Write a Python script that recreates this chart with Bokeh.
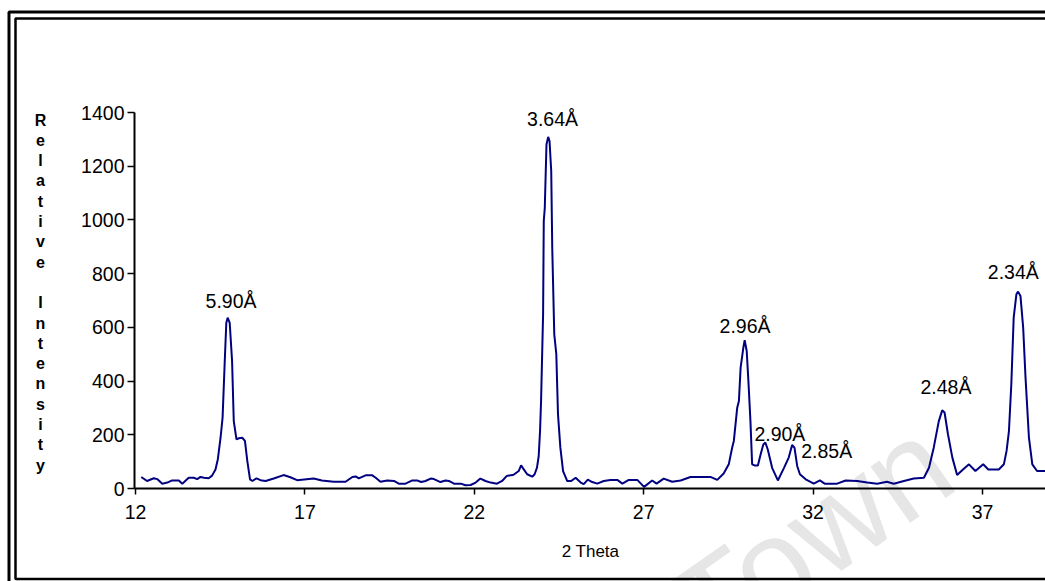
import math
from bokeh.plotting import figure
from bokeh.models import (Range1d, LabelSet, ColumnDataSource, BoxAnnotation,
                          FixedTicker)
from bokeh.core.properties import value
from bokeh.embed import file_html
from bokeh.resources import INLINE

# ---------------- data ----------------
two_theta = [12.17, 12.34, 12.54, 12.64, 12.79, 12.94, 13.08, 13.28, 13.38, 13.57,
             13.72, 13.82, 13.92, 14.02, 14.16, 14.26, 14.36, 14.43, 14.51, 14.57,
             14.63, 14.68, 14.72, 14.78, 14.85, 14.90, 14.98, 15.05, 15.15, 15.23,
             15.30, 15.38, 15.45, 15.57, 15.69, 15.84, 16.08, 16.37, 16.57, 16.77,
             17.26, 17.50, 17.85, 18.20, 18.40, 18.50, 18.59, 18.79, 18.99, 19.09,
             19.23, 19.43, 19.63, 19.77, 19.97, 20.17, 20.31, 20.43, 20.56, 20.71,
             20.81, 21.00, 21.15, 21.25, 21.40, 21.60, 21.74, 21.89, 22.04, 22.18,
             22.33, 22.48, 22.67, 22.82, 22.96, 23.16, 23.31, 23.38, 23.46, 23.56,
             23.71, 23.78, 23.85, 23.90, 23.94, 23.97, 24.03, 24.05, 24.08, 24.13,
             24.18, 24.22, 24.27, 24.30, 24.36, 24.42, 24.47, 24.54, 24.62, 24.74,
             24.86, 24.99, 25.14, 25.23, 25.35, 25.48, 25.63, 25.82, 26.02, 26.22,
             26.37, 26.56, 26.81, 27.01, 27.25, 27.38, 27.59, 27.84, 28.09, 28.38,
             28.97, 29.17, 29.36, 29.51, 29.61, 29.66, 29.76, 29.81, 29.86, 29.94,
             29.98, 30.04, 30.09, 30.15, 30.20, 30.27, 30.37, 30.45, 30.53, 30.59,
             30.66, 30.79, 30.96, 31.14, 31.28, 31.38, 31.45, 31.53, 31.61, 31.78,
             32.02, 32.20, 32.34, 32.71, 32.96, 33.30, 33.60, 33.89, 34.18, 34.38,
             34.68, 34.97, 35.27, 35.42, 35.56, 35.71, 35.81, 35.88, 35.98, 36.11,
             36.25, 36.40, 36.60, 36.79, 37.02, 37.17, 37.48, 37.63, 37.71, 37.78,
             37.85, 37.92, 38.00, 38.05, 38.12, 38.20, 38.27, 38.37, 38.47, 38.61,
             38.90]
intensity = [43, 28, 38, 35, 18, 22, 30, 30, 18, 40,
             40, 35, 43, 40, 38, 48, 71, 109, 189, 264,
             462, 617, 636, 617, 475, 251, 183, 187, 189, 177,
             102, 34, 28, 38, 31, 28, 37, 50, 42, 31,
             37, 30, 25, 25, 43, 45, 38, 49, 49, 40,
             25, 30, 28, 18, 18, 30, 30, 24, 28, 37,
             35, 24, 30, 28, 18, 18, 12, 13, 22, 37,
             28, 22, 18, 28, 47, 51, 65, 86, 71, 53,
             44, 53, 78, 120, 214, 326, 649, 996, 1045, 1281,
             1309, 1294, 1182, 897, 574, 500, 276, 152, 65, 28,
             28, 40, 22, 16, 33, 24, 18, 28, 32, 32,
             18, 32, 32, 6, 30, 18, 37, 25, 30, 43,
             43, 32, 56, 90, 152, 177, 301, 326, 450, 524,
             552, 512, 400, 251, 90, 86, 86, 127, 164, 171,
             146, 77, 30, 77, 115, 162, 152, 84, 53, 34,
             18, 30, 18, 18, 30, 28, 22, 18, 25, 18,
             28, 37, 40, 77, 152, 251, 291, 283, 202, 115,
             50, 68, 90, 65, 90, 71, 71, 90, 140, 214,
             388, 636, 723, 733, 717, 599, 412, 189, 90, 65,
             65]

peak_labels = ["5.90Å", "3.64Å", "2.96Å", "2.90Å", "2.85Å", "2.48Å", "2.34Å"]
peak_label_x = [14.82, 24.31, 29.99, 31.02, 32.40, 35.92, 37.91]
peak_label_y = [672, 1350, 579, 177, 114, 352, 780]

x_ticks = [12, 17, 22, 27, 32, 37]
y_ticks = [0, 200, 400, 600, 800, 1000, 1200, 1400]
x_title = "2 Theta"
y_title = "Relative Intensity"
watermark = "Town"

# ---------------- layout ----------------
W, H = 1045, 581
AX_LEFT_PX, AX_BOTTOM_PX = 134, 488     # where the axes sit on the canvas
X_AT_AXIS, PX_PER_X = 11.97, 33.88
PX_PER_Y = 376 / 1400


def dx(px):
    return X_AT_AXIS + (px - AX_LEFT_PX) / PX_PER_X


def dy(py):
    return (AX_BOTTOM_PX - py) / PX_PER_Y


p = figure(width=W, height=H,
           x_range=Range1d(dx(0), dx(W)), y_range=Range1d(dy(H), dy(0)),
           toolbar_location=None, output_backend="svg",
           min_border_left=0, min_border_right=0,
           min_border_top=0, min_border_bottom=0)
p.grid.visible = False
p.outline_line_color = None
p.background_fill_color = "white"
p.border_fill_color = "white"

FONT = "Liberation Sans"
for ax in (p.xaxis[0], p.yaxis[0]):
    ax.axis_line_color = "black"
    ax.axis_line_width = 2
    ax.major_tick_line_color = "black"
    ax.major_tick_line_width = 1.5
    ax.minor_tick_line_color = None
    ax.major_tick_in = 0
    ax.major_label_text_font = FONT
    ax.major_label_text_font_size = "19.5px"
    ax.major_label_text_color = "black"

xa, ya = p.xaxis[0], p.yaxis[0]
xa.ticker = FixedTicker(ticks=x_ticks)
ya.ticker = FixedTicker(ticks=y_ticks)
xa.fixed_location = 0
ya.fixed_location = X_AT_AXIS
xa.bounds = (X_AT_AXIS, dx(W + 20))
ya.bounds = (0, 1400)
xa.major_tick_out = 6
ya.major_tick_out = 7
xa.major_label_standoff = 10
ya.major_label_standoff = 3


def text_set(xs, ys, ts, size, style="normal", align="center", angle=0.0,
             color="black", alpha=1.0, level="annotation"):
    src = ColumnDataSource(data=dict(x=xs, y=ys, t=ts))
    return LabelSet(x="x", y="y", text="t", source=src, angle=angle,
                    text_align=align, text_baseline="alphabetic",
                    text_font=value(FONT), text_font_size=size,
                    text_font_style=style, text_color=color, text_alpha=alpha,
                    level=level)


# watermark (faint, behind the data)
p.add_layout(text_set([dx(713)], [dy(660)], [watermark], "130px",
                      align="left", angle=math.radians(35),
                      color="#c8c8c8", alpha=0.45, level="underlay"))

# data line
src = ColumnDataSource(data=dict(x=two_theta, y=intensity))
p.line("x", "y", source=src, line_color="#000080", line_width=2)

# peak labels
p.add_layout(text_set(peak_label_x, peak_label_y, peak_labels, "19.5px"))

# x title
p.add_layout(text_set([dx(590)], [dy(556)], [x_title], "17px"))

# vertical stacked y title
ys, xs, ts = [], [], []
for i, c in enumerate(y_title):
    if c.strip():
        ts.append(c)
        xs.append(dx(40))
        ys.append(dy(125 + 20.3 * i))
p.add_layout(text_set(xs, ys, ts, "16px", style="bold"))

# double frame around the chart
p.add_layout(BoxAnnotation(left=dx(8.5), right=dx(1300), top=dy(11.5), bottom=dy(700),
                           fill_alpha=0, line_color="black", line_width=3,
                           line_alpha=1, level="overlay"))
p.add_layout(BoxAnnotation(left=dx(15), right=dx(1300), top=dy(18), bottom=dy(578.5),
                           fill_alpha=0, line_color="black", line_width=2.5,
                           line_alpha=1, level="overlay"))

open("out.html", "w").write(file_html(p, INLINE))
